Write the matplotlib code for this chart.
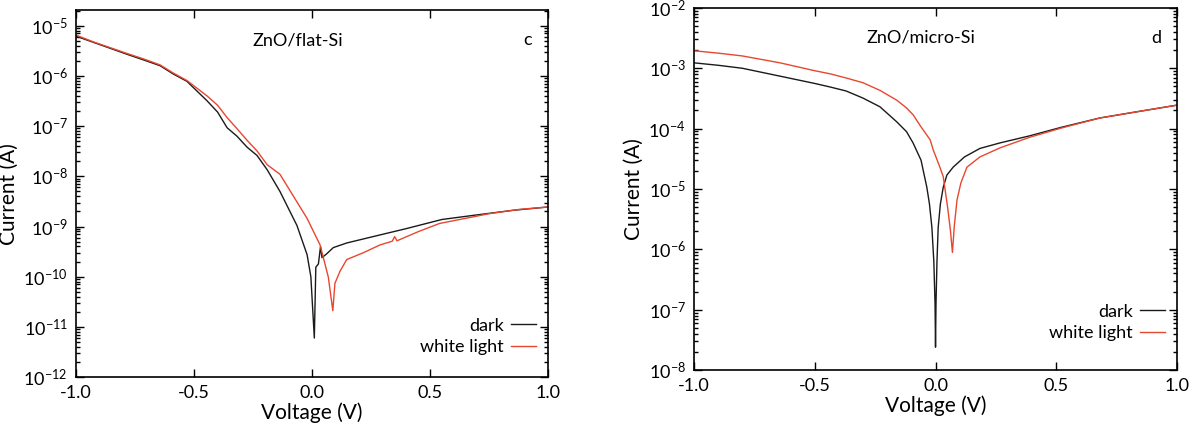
import matplotlib
matplotlib.use("Agg")
import matplotlib.pyplot as plt
from matplotlib.ticker import LogLocator, FixedLocator

plt.rcParams['font.family'] = ['Lato', 'DejaVu Sans']
plt.rcParams['mathtext.fontset'] = 'custom'
plt.rcParams['mathtext.rm'] = 'Lato'
plt.rcParams['mathtext.it'] = 'Lato:italic'
plt.rcParams['mathtext.bf'] = 'Lato:bold'
plt.rcParams['axes.unicode_minus'] = False

# ZnO/flat-Si
flat_dark_v = [-1.0, -0.928, -0.784, -0.716, -0.644, -0.589, -0.53, -0.445, -0.40, -0.36,
               -0.318, -0.275, -0.233, -0.19, -0.136, -0.064, -0.021, -0.005, 0.0097, 0.016,
               0.027, 0.036, 0.042, 0.06, 0.09, 0.147, 0.288, 0.40, 0.55, 0.68,
               0.85, 1.0]
flat_dark_i = [6.2e-6, 4.7e-6, 2.7e-6, 2.1e-6, 1.6e-6, 1.1e-6, 7.8e-7, 3.2e-7, 1.9e-7, 9.3e-8,
               6.3e-8, 3.8e-8, 2.6e-8, 1.35e-8, 5.0e-9, 1.05e-9, 2.75e-10, 1.0e-10, 6.0e-12, 1.55e-10,
               1.8e-10, 4.0e-10, 2.4e-10, 2.8e-10, 3.8e-10, 4.7e-10, 6.8e-10, 9.1e-10, 1.38e-9, 1.66e-9,
               2.1e-9, 2.45e-9]
flat_light_v = [-1.0, -0.928, -0.784, -0.716, -0.644, -0.589, -0.53, -0.445, -0.40, -0.36,
                -0.318, -0.275, -0.233, -0.19, -0.136, -0.08, -0.021, 0.034, 0.048, 0.069,
                0.088, 0.097, 0.119, 0.147, 0.217, 0.288, 0.34, 0.35, 0.36, 0.45,
                0.54, 0.75, 0.88, 1.0]
flat_light_i = [6.5e-6, 4.8e-6, 2.8e-6, 2.2e-6, 1.66e-6, 1.15e-6, 8.1e-7, 4.0e-7, 2.6e-7, 1.48e-7,
                8.9e-8, 5.2e-8, 3.2e-8, 1.7e-8, 1.1e-8, 4.1e-9, 1.45e-9, 4.3e-10, 2.4e-10, 9.8e-11,
                2.1e-11, 7.4e-11, 1.3e-10, 2.2e-10, 3.0e-10, 4.3e-10, 5.1e-10, 6.3e-10, 5.2e-10, 7.9e-10,
                1.15e-9, 1.8e-9, 2.2e-9, 2.45e-9]

# ZnO/micro-Si
micro_dark_v = [-1.0, -0.9, -0.8, -0.644, -0.5, -0.437, -0.37, -0.30, -0.23, -0.16,
                -0.12, -0.093, -0.06, -0.036, -0.025, -0.015, -0.007, -0.002, 0.0, 0.002,
                0.006, 0.011, 0.02, 0.032, 0.047, 0.073, 0.12, 0.184, 0.267, 0.39,
                0.52, 0.68, 0.85, 1.0]
micro_dark_i = [1.23e-3, 1.12e-3, 1.0e-3, 7.4e-4, 5.6e-4, 4.9e-4, 4.2e-4, 3.2e-4, 2.3e-4, 1.29e-4,
                8.9e-5, 5.8e-5, 3.0e-5, 1.07e-5, 5.6e-6, 2.3e-6, 6.3e-7, 1.26e-7, 2.4e-8, 1.26e-7,
                6.3e-7, 2.3e-6, 5.6e-6, 1.07e-5, 1.7e-5, 2.3e-5, 3.4e-5, 4.7e-5, 5.8e-5, 7.6e-5,
                1.05e-4, 1.5e-4, 1.95e-4, 2.45e-4]
micro_light_v = [-1.0, -0.9, -0.8, -0.644, -0.5, -0.437, -0.37, -0.30, -0.23, -0.16,
                 -0.12, -0.093, -0.06, -0.022, -0.01, 0.018, 0.032, 0.05, 0.062, 0.070,
                 0.078, 0.089, 0.105, 0.13, 0.184, 0.267, 0.39, 0.52, 0.68, 0.85,
                 1.0]
micro_light_i = [1.95e-3, 1.78e-3, 1.6e-3, 1.23e-3, 9.1e-4, 8.1e-4, 6.9e-4, 5.75e-4, 4.3e-4, 2.95e-4,
                 2.2e-4, 1.7e-4, 1.07e-4, 6.5e-5, 4.5e-5, 2.3e-5, 1.6e-5, 5.0e-6, 2.0e-6, 8.9e-7,
                 2.5e-6, 6.6e-6, 1.26e-5, 2.3e-5, 3.4e-5, 4.8e-5, 7.2e-5, 1.02e-4, 1.5e-4, 1.95e-4,
                 2.45e-4]

x_ticks = [-1.0, -0.5, 0.0, 0.5, 1.0]
x_ticklabels = ['-1.0', '-0.5', '0.0', '0.5', '1.0']

dark_color = '#1a1a1a'
light_color = '#e8472f'

fig = plt.figure(figsize=(11.99, 4.38), dpi=100)
ax1 = fig.add_axes([0.0634, 0.139, 0.3937, 0.838])
ax2 = fig.add_axes([0.5788, 0.155, 0.4029, 0.827])


def style(ax, ylim, title, letter, leg_anchor):
    ax.set_yscale('log')
    ax.set_xlim(-1, 1)
    ax.set_ylim(*ylim)
    ax.xaxis.set_major_locator(FixedLocator(x_ticks))
    ax.set_xticklabels(x_ticklabels)
    ax.yaxis.set_major_locator(LogLocator(base=10, numticks=20))
    ax.yaxis.set_minor_locator(LogLocator(base=10, subs=range(2, 10), numticks=20))
    ax.tick_params(which='both', direction='in', top=True, right=True, labelsize=13, width=1)
    ax.tick_params(which='major', length=6, pad=6)
    ax.tick_params(which='minor', length=3)
    for s in ax.spines.values():
        s.set_linewidth(1.2)
    ax.set_xlabel('Voltage (V)', fontsize=15, labelpad=1)
    ax.set_ylabel('Current (A)', fontsize=15, labelpad=3)
    ax.text(0.47, 0.918, title, transform=ax.transAxes, fontsize=13, ha='center', va='center')
    ax.text(0.957, 0.918, letter, transform=ax.transAxes, fontsize=13, ha='center', va='center')
    ax.legend(loc='lower right', bbox_to_anchor=leg_anchor, frameon=False, markerfirst=False,
              fontsize=13, handlelength=1.4, handletextpad=0.4, labelspacing=0.3,
              borderaxespad=0)


ax1.plot(flat_dark_v, flat_dark_i, color=dark_color, lw=1.0, label='dark')
ax1.plot(flat_light_v, flat_light_i, color=light_color, lw=1.0, label='white light')
style(ax1, (1e-12, 2.05e-5), 'ZnO/flat-Si', 'c', (0.99, 0.04))

ax2.plot(micro_dark_v, micro_dark_i, color=dark_color, lw=1.0, label='dark')
ax2.plot(micro_light_v, micro_light_i, color=light_color, lw=1.0, label='white light')
style(ax2, (1e-8, 1e-2), 'ZnO/micro-Si', 'd', (0.99, 0.06))

fig.savefig('out.png', dpi=100)
